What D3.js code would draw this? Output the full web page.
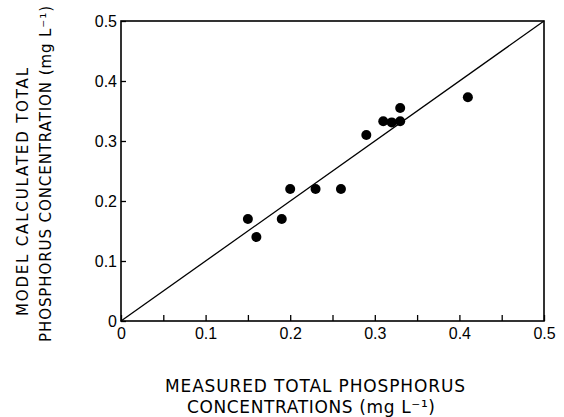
<!DOCTYPE html>
<html>
<head>
<meta charset="utf-8">
<script src="https://cdn.jsdelivr.net/npm/d3@7"></script>
<style>
  body { margin: 0; background: #fff; }
  svg { display: block; font-family: "DejaVu Sans", sans-serif; }
</style>
</head>
<body>
<svg id="chart" width="564" height="417"></svg>
<script>
// measured vs model calculated total phosphorus (mg/L)
const measured = [0.15, 0.16, 0.19, 0.20, 0.23, 0.26, 0.29, 0.31, 0.32, 0.33, 0.33, 0.41];
const modeled  = [0.17, 0.14, 0.17, 0.22, 0.22, 0.22, 0.31, 0.333, 0.331, 0.333, 0.355, 0.373];
const xTicks = [0, 0.05, 0.1, 0.15, 0.2, 0.25, 0.3, 0.35, 0.4, 0.45, 0.5];
const yTicks = [0, 0.1, 0.2, 0.3, 0.4, 0.5];
const oneToOne = [0, 0.5];

const svg = d3.select("#chart");
const plotLeft = 121, plotRight = 544, plotTop = 21, plotBottom = 321;

const x = d3.scaleLinear().domain([0, 0.5]).range([plotLeft, plotRight]);
const y = d3.scaleLinear().domain([0, 0.5]).range([plotBottom, plotTop]);

const fmt = d => d === 0 ? "0" : d.toFixed(1);

// x axis: minor ticks every 0.05, labels every 0.1
const xAxis = d3.axisBottom(x)
    .tickValues(xTicks)
    .tickSizeInner(-6)
    .tickSizeOuter(0)
    .tickPadding(7)
    .tickFormat(d => Math.round(d * 100) % 10 === 0 ? fmt(d) : "");
svg.append("g")
    .attr("transform", `translate(0,${plotBottom})`)
    .call(xAxis)
    .call(g => g.select(".domain").remove())
    .call(g => g.selectAll("line").attr("stroke-width", 1.3))
    .call(g => g.selectAll("text").attr("fill", "#000").style("font-size", "16px"));

// y axis
const yAxis = d3.axisLeft(y)
    .tickValues(yTicks)
    .tickSizeInner(-5)
    .tickSizeOuter(0)
    .tickPadding(4)
    .tickFormat(fmt);
svg.append("g")
    .attr("transform", `translate(${plotLeft},0)`)
    .call(yAxis)
    .call(g => g.select(".domain").remove())
    .call(g => g.selectAll("line").attr("stroke-width", 1.3))
    .call(g => g.selectAll("text").attr("fill", "#000").style("font-size", "16px"));

// frame
svg.append("rect")
    .attr("x", x(0)).attr("y", y(0.5))
    .attr("width", x(0.5) - x(0)).attr("height", y(0) - y(0.5))
    .attr("fill", "none")
    .attr("stroke", "#000")
    .attr("stroke-width", 1.6);

// 1:1 line
svg.append("line")
    .attr("x1", x(oneToOne[0])).attr("y1", y(oneToOne[0]))
    .attr("x2", x(oneToOne[1])).attr("y2", y(oneToOne[1]))
    .attr("stroke", "#000")
    .attr("stroke-width", 1.3);

// points
svg.append("g")
    .selectAll("circle")
    .data(measured.map((m, i) => ({ m, p: modeled[i] })))
    .join("circle")
    .attr("cx", d => x(d.m))
    .attr("cy", d => y(d.p))
    .attr("r", 5)
    .attr("fill", "#000");

// x title
const xt = svg.append("g").attr("fill", "#000").style("font-size", "17px");
xt.append("text")
    .attr("x", 315).attr("y", 392)
    .attr("text-anchor", "middle")
    .attr("textLength", 300)
    .attr("lengthAdjust", "spacing")
    .text("MEASURED  TOTAL  PHOSPHORUS");
xt.append("text")
    .attr("x", 311).attr("y", 413)
    .attr("text-anchor", "middle")
    .attr("textLength", 248)
    .attr("lengthAdjust", "spacing")
    .text("CONCENTRATIONS (mg L\u207B\u00B9)");

// y title
const yt = svg.append("g").attr("fill", "#000").style("font-size", "15px");
yt.append("text")
    .attr("transform", "translate(28,192) rotate(-90)")
    .attr("text-anchor", "middle")
    .attr("textLength", 248)
    .attr("lengthAdjust", "spacing")
    .text("MODEL  CALCULATED  TOTAL");
yt.append("text")
    .attr("transform", "translate(51,174) rotate(-90)")
    .attr("text-anchor", "middle")
    .attr("textLength", 336)
    .attr("lengthAdjust", "spacing")
    .text("PHOSPHORUS  CONCENTRATION (mg L\u207B\u00B9)");
</script>
</body>
</html>
